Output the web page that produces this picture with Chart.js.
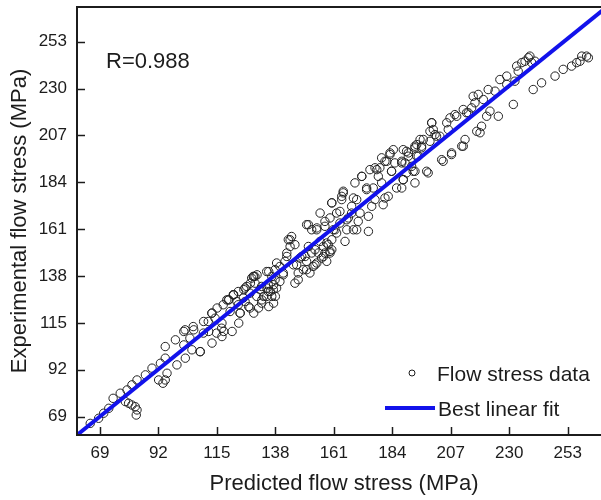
<!DOCTYPE html>
<html>
<head>
<meta charset="utf-8">
<script src="https://cdn.jsdelivr.net/npm/chart.js@4.4.1/dist/chart.umd.min.js"></script>
<style>
html,body{margin:0;padding:0;background:#fff;overflow:hidden;width:601px;height:500px}
#wrap{position:absolute;left:0;top:0;width:620px;height:500px}
</style>
</head>
<body>
<div id="wrap"><canvas id="c" width="620" height="500"></canvas></div>
<script>
// ---- data ----
const predicted = [
  65.2,68.5,70.5,72.5,74.2,77.0,79.7,79.0,80.3,81.6, 82.9,83.6,83.3,81.6,83.6,86.9,89.5,92.8,92.1,93.8,
  94.7,95.4,94.7,94.7,98.7,99.3,102.0,102.0,102.6,105.2, 105.9,108.5,109.8,111.8,113.1,113.1,115.1,117.0,117.7,117.0,
  119.7,121.6,122.9,121.0,124.2,123.6,125.6,128.2,129.5,130.8, 127.5,129.5,131.4,132.7,133.4,135.4,136.0,134.7,137.3,138.0,
  137.3,135.4,
  118.9,121.5,123.4,125.4,126.1,128.0,129.3,130.0,132.0,132.6, 134.6,135.2,136.6,137.9,138.5,137.2,139.8,141.1,141.8,142.5,
  143.8,144.4,145.7,146.4,147.7,147.0,149.0,149.7,150.3,151.0, 151.6,152.9,153.6,154.3,154.9,155.6,156.2,156.9,157.5,158.2,
  158.8,159.5,160.2,150.3,152.3,154.3,155.6,157.5,159.5,160.2, 161.5,162.1,163.4,164.1,164.7,165.4,166.1,166.7,168.0,168.7,
  170.0,170.6,171.3,172.0,173.9,174.6,175.9,176.5,177.2,177.9, 179.1,179.8,180.4,181.1,181.8,182.4,183.1,183.7,184.4,185.0,
  187.7,188.3,187.7,189.6,191.6,192.2,193.6,194.2,
  102.5,105.7,104.4,108.4,109.7,111.6,113.0,114.3,114.9,116.9, 117.5,119.5,120.2,121.5,123.4,124.1,126.1,126.7,128.0,128.7,
  130.0,130.7,132.6,134.6,135.2,136.6,137.9,138.5,139.8,141.1, 142.5,143.1,143.8,145.1,145.7,147.0,148.4,150.3,151.0,152.3,
  153.6,154.3,156.9,158.2,159.5,160.2,160.8,
  157.5,160.2,164.1,164.7,169.3,172.0,175.2,177.2,178.5,179.8, 181.1,183.1,183.7,187.7,188.3,190.3,192.9,194.9,195.5,197.5,
  198.8,199.5,201.4,207.3,208.6,211.9,213.2,217.2,185.7,170.0, 173.9,168.0,163.4,166.1,168.7,174.6,162.1,
  188.3,189.6,189.0,190.3,192.9,192.9,193.6,192.9,195.5,196.2, 198.1,198.8,199.5,200.1,200.8,202.7,203.4,204.0,205.4,206.0,
  206.7,207.3,209.3,211.3,211.9,212.6,213.9,215.2,215.8,216.5, 217.8,218.5,219.1,219.8,221.1,221.7,222.4,224.4,225.7,226.3,
  229.0,229.0,231.6,232.2,232.9,233.5,234.9,236.2,237.5,238.1, 238.8,240.1,239.4,242.7,248.0,251.2,254.5,256.5,258.5,260.4,
  261.1,257.8
];
const experimental = [
  65.7,68.2,70.7,73.1,78.0,80.5,82.1,76.4,75.6,74.7, 73.9,72.3,69.8,84.6,87.0,89.5,92.8,95.2,87.0,85.4,
  87.0,90.3,103.4,97.7,106.7,94.4,110.8,104.2,97.7,101.8, 111.6,100.9,115.7,110.8,119.8,105.1,122.3,114.9,110.8,108.3,
  126.3,128.8,125.5,110.8,119.8,114.9,131.3,134.5,137.8,138.6, 123.0,119.8,122.3,126.3,128.0,123.0,130.4,132.1,133.7,128.0,
  124.7,140.2,
  126.3,128.8,123.9,127.2,132.1,129.6,137.8,134.5,131.3,124.7, 128.0,133.7,137.8,141.1,144.4,131.3,135.3,139.5,145.2,149.3,
  155.8,157.4,153.4,143.5,146.8,136.2,141.1,147.6,145.2,152.5, 139.5,142.7,150.9,144.4,149.3,155.0,146.8,152.5,149.3,145.2,
  153.4,149.3,150.9,163.2,160.7,161.6,168.9,164.8,166.5,173.9, 160.7,168.9,164.0,177.1,179.6,155.0,160.7,166.5,172.2,176.3,
  160.7,164.8,168.9,186.9,180.4,167.3,172.2,181.2,175.5,190.2, 191.1,183.7,173.0,176.3,194.3,177.1,197.6,189.4,200.0,193.5,
  194.3,185.3,181.2,199.2,191.8,189.4,202.5,196.8,
  111.6,113.2,107.5,100.9,110.0,115.7,119.8,117.3,110.0,112.4, 123.9,126.3,120.6,128.8,130.4,119.8,125.5,132.9,122.3,137.0,
  137.8,128.0,132.9,140.2,130.4,128.0,136.2,132.1,142.7,138.6, 147.6,155.8,152.5,143.5,134.5,139.5,147.6,141.1,163.2,149.3,
  143.5,160.7,147.6,154.2,150.1,155.8,160.7,
  162.4,173.9,175.5,178.8,183.7,186.9,190.2,191.1,186.9,196.0, 194.3,198.4,189.4,193.5,200.0,198.4,201.7,205.0,200.9,189.4,
  209.0,213.2,206.6,198.4,217.2,201.7,218.1,209.0,181.2,175.5, 181.2,168.9,169.7,165.6,160.7,159.9,159.1,
  185.3,188.6,193.5,196.8,183.7,189.4,196.8,200.9,201.7,205.0, 188.6,204.1,213.2,209.9,207.4,206.6,195.1,194.3,213.2,209.9,
  215.6,197.6,216.4,201.7,219.7,205.0,218.1,220.5,226.2,223.0, 227.1,208.3,211.5,224.6,216.4,229.5,218.9,228.7,216.4,234.4,
  236.1,232.0,222.2,233.6,241.0,238.5,242.7,243.4,245.1,245.9, 242.7,243.4,229.5,232.8,236.1,239.4,241.0,242.7,245.9,245.9,
  245.1,243.4
];
// best linear fit end points
const fitX = [60, 270];
const fitY = [60, 271.7];
const tickValues = [69, 92, 115, 138, 161, 184, 207, 230, 253];
const xTitle = 'Predicted flow stress (MPa)';
const yTitle = 'Experimental flow stress (MPa)';
const seriesNames = ['Flow stress data', 'Best linear fit'];
const rLabel = 'R=0.988';

// ---- drawing ----
const FONT = 'Arial, "Liberation Sans", Helvetica, sans-serif';
const INK = '#1c1c1c';
const BLUE = 'rgb(18,18,235)';
Chart.defaults.font.family = FONT;

const scatterPts = predicted.map((x, i) => ({ x: x, y: experimental[i] }));
const fitPts = fitX.map((x, i) => ({ x: x, y: fitY[i] }));

const frame = {
  id: 'frame',
  afterDraw(chart) {
    const { ctx, chartArea: a, scales } = chart;
    const sx = scales.x, sy = scales.y;
    ctx.save();
    // axes box
    ctx.strokeStyle = INK;
    ctx.lineWidth = 2;
    ctx.beginPath();
    ctx.moveTo(a.left, a.top); ctx.lineTo(a.right, a.top);
    ctx.lineTo(a.right, a.bottom); ctx.lineTo(a.left, a.bottom);
    ctx.closePath();
    ctx.stroke();
    // inward tick marks
    ctx.lineWidth = 1.5;
    sx.ticks.forEach(t => {
      const p = Math.round(sx.getPixelForValue(t.value)) + 0.5;
      ctx.beginPath(); ctx.moveTo(p, a.bottom); ctx.lineTo(p, a.bottom - 8); ctx.stroke();
    });
    sy.ticks.forEach(t => {
      const p = Math.round(sy.getPixelForValue(t.value)) + 0.5;
      ctx.beginPath(); ctx.moveTo(a.left, p); ctx.lineTo(a.left + 8, p); ctx.stroke();
    });
    // R annotation
    ctx.fillStyle = INK;
    ctx.textAlign = 'left';
    ctx.textBaseline = 'alphabetic';
    ctx.font = '22px ' + FONT;
    ctx.fillText(rLabel, 106, 68);
    // legend
    ctx.font = '21px ' + FONT;
    ctx.lineWidth = 1;
    ctx.beginPath(); ctx.arc(412, 373, 3, 0, Math.PI * 2); ctx.stroke();
    ctx.fillText(seriesNames[0], 437, 381);
    ctx.strokeStyle = BLUE;
    ctx.lineWidth = 4;
    ctx.beginPath(); ctx.moveTo(385, 408); ctx.lineTo(435, 408); ctx.stroke();
    ctx.fillText(seriesNames[1], 438, 416);
    ctx.restore();
  }
};

new Chart(document.getElementById('c'), {
  type: 'scatter',
  data: {
    datasets: [
      { label: seriesNames[1], data: fitPts, showLine: true, borderColor: BLUE, borderWidth: 4,
        pointRadius: 0, pointHoverRadius: 0, fill: false, tension: 0, clip: 0, order: 0 },
      { label: seriesNames[0], data: scatterPts, pointRadius: 4.2, pointHoverRadius: 4.2,
        pointBorderWidth: 1, borderColor: '#222222', backgroundColor: 'rgba(255,255,255,0)', order: 1 }
    ]
  },
  options: {
    responsive: false,
    animation: false,
    devicePixelRatio: 1,
    layout: { padding: { top: 7, right: 9, left: 0, bottom: 0 } },
    plugins: { legend: { display: false }, tooltip: { enabled: false } },
    scales: {
      x: {
        type: 'linear', position: 'bottom', min: 60, max: 270,
        afterBuildTicks: s => { s.ticks = tickValues.map(v => ({ value: v })); },
        afterFit: s => { s.height = 65; s.paddingLeft = 0; s.paddingRight = 0; },
        grid: { display: false, drawTicks: false },
        border: { display: false },
        ticks: { font: { size: 17 }, color: INK, padding: 8, maxRotation: 0, autoSkip: false },
        title: { display: true, text: xTitle, font: { size: 22 }, color: INK, padding: { top: 0, bottom: 3 } }
      },
      y: {
        type: 'linear', position: 'left', min: 60, max: 270,
        afterBuildTicks: s => { s.ticks = tickValues.map(v => ({ value: v })); },
        afterFit: s => { s.width = 77; s.paddingTop = 0; s.paddingBottom = 0; },
        grid: { display: false, drawTicks: false },
        border: { display: false },
        ticks: { font: { size: 17 }, color: INK, padding: 10, autoSkip: false },
        title: { display: true, text: yTitle, font: { size: 22 }, color: INK, padding: { top: 7, bottom: 0 } }
      }
    }
  },
  plugins: [frame]
});
</script>
</body>
</html>
